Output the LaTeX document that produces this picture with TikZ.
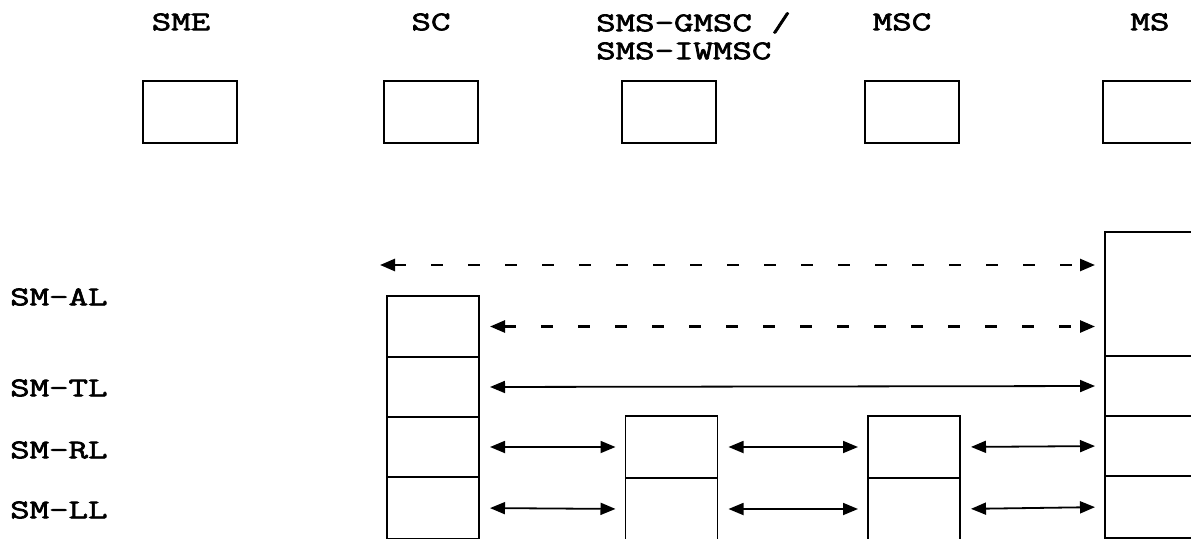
\documentclass[tikz,border=0pt]{standalone}
\usepackage{fontspec}
\usetikzlibrary{arrows.meta,positioning}
\newfontfamily\labelfont[FakeStretch=1.4,FakeBold=2.5]{Latin Modern Mono}

\tikzset{
    entity/.style={draw, line width=1.6pt, minimum width=94pt, minimum height=62pt, inner sep=0pt},
    layer/.style={draw, line width=1.6pt, minimum width=92pt, inner sep=0pt, outer sep=0pt},
    tag/.style={font=\labelfont\fontsize{27}{28}\selectfont, inner sep=0pt},
    peer/.style={line width=1.8pt, {Triangle[length=15pt,width=12pt]}-{Triangle[length=15pt,width=12pt]}, shorten <=11pt, shorten >=10pt},
    peerdash/.style={peer, line width=2.6pt, dash pattern=on 12pt off 25pt}
}

\begin{document}
\begin{tikzpicture}[x=1pt, y=-1pt]
        \useasboundingbox (0,0) rectangle (1191,538);
        \clip (0,0) rectangle (1191,538);
        % entities
        \node[tag] (sme-lab) at (181,22) {SME};
        \node[tag] (sc-lab) at (431,22) {SC};
        \node[tag, anchor=west, align=left] (gmsc-lab) at (596,36) {SMS-GMSC /\\SMS-IWMSC};
        \node[tag] (msc-lab) at (902,22) {MSC};
        \node[tag] (ms-lab) at (1150,22) {MS};
        \foreach \n/\x in {sme/190, sc/431, gmsc/669, msc/912, ms/1150}
            \node[entity] (\n-top) at (\x,112) {};
        % layers
        \node[tag, anchor=west] (al-lab) at (10,297) {SM-AL};
        \node[tag, anchor=west] (tl-lab) at (10,388) {SM-TL};
        \node[tag, anchor=west] (rl-lab) at (10,450) {SM-RL};
        \node[tag, anchor=west] (ll-lab) at (10,510) {SM-LL};
        \node[layer, minimum height=61pt] (sc-al) at (433,326.5) {};
        \node[layer, minimum height=60pt, below=0pt of sc-al] (sc-tl) {};
        \node[layer, minimum height=60pt, below=0pt of sc-tl] (sc-rl) {};
        \node[layer, minimum height=62pt, below=0pt of sc-rl] (sc-ll) {};
        \node[layer, minimum height=62pt] (gmsc-rl) at (671.5,447) {};
        \node[layer, minimum height=62pt, below=0pt of gmsc-rl] (gmsc-ll) {};
        \node[layer, minimum height=62pt] (msc-rl) at (914,447) {};
        \node[layer, minimum height=62pt, below=0pt of msc-rl] (msc-ll) {};
        \node[layer, minimum width=94pt, minimum height=124pt] (ms-al) at (1152,294) {};
        \node[layer, minimum width=94pt, minimum height=60pt, below=0pt of ms-al] (ms-tl) {};
        \node[layer, minimum width=94pt, minimum height=60pt, below=0pt of ms-tl] (ms-rl) {};
        \node[layer, minimum width=94pt, minimum height=62pt, below=0pt of ms-rl] (ms-ll) {};
        % peer protocols
        \coordinate (al-far) at (380,265);
        \draw[peerdash, shorten <=0pt] (al-far) -- (al-far -| ms-al.west);
        \draw[peerdash] (sc-al.east) -- (sc-al.east -| ms-al.west);
        \draw[peer] (sc-tl.east) -- (ms-tl.west);
        \draw[peer] (sc-rl.east) -- (gmsc-rl.west);
        \draw[peer] (gmsc-rl.east) -- (msc-rl.west);
        \draw[peer] (msc-rl.east) -- (ms-rl.west);
        \draw[peer] (sc-ll.east) -- (gmsc-ll.west);
        \draw[peer] (gmsc-ll.east) -- (msc-ll.west);
        \draw[peer] (msc-ll.east) -- (ms-ll.west);
\end{tikzpicture}
\end{document}
